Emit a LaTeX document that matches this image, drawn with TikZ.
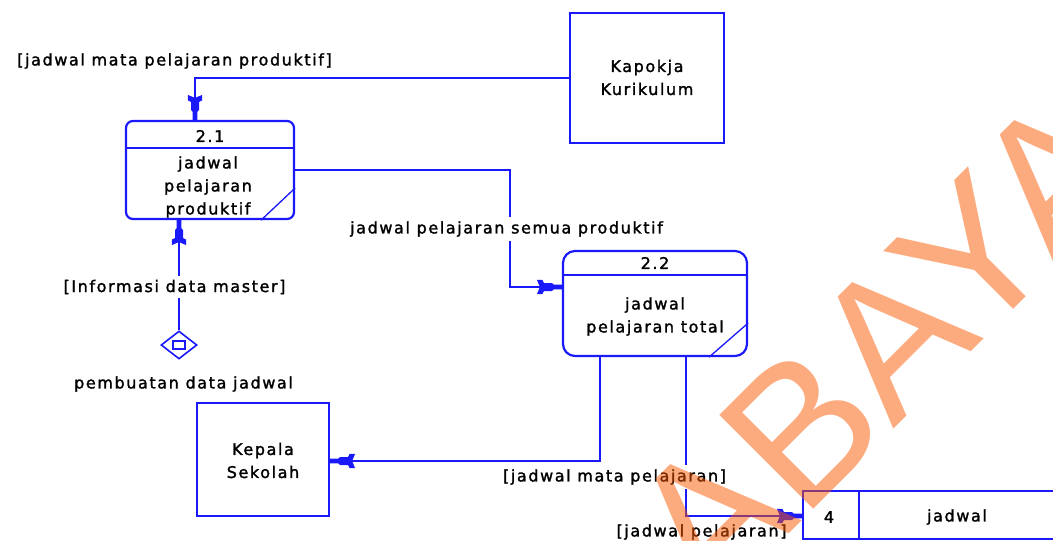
\documentclass[tikz,border=0pt]{standalone}
\usepackage{fontspec}
\setmainfont{DejaVu Sans}[LetterSpace=10, FakeBold=1.6]
\newfontfamily\wmfont{Liberation Sans}
\usetikzlibrary{arrows.meta,shapes.geometric}
\definecolor{dfdblue}{RGB}{25,25,250}
\definecolor{wmorange}{RGB}{250,88,0}

% barbed data-flow arrow head with a short thick stem at the tip
\pgfdeclarearrow{
  name=DFD,
  setup code={
    \pgfarrowssettipend{0pt}
    \pgfarrowssetlineend{-12pt}
    \pgfarrowsupperhullpoint{-25pt}{7pt}
    \pgfarrowsupperhullpoint{0pt}{2.2pt}
  },
  drawing code={
    \pgfpathmoveto{\pgfqpoint{0.5pt}{2.3pt}}
    \pgfpathlineto{\pgfqpoint{-8pt}{2.3pt}}
    \pgfpathlineto{\pgfqpoint{-10pt}{4pt}}
    \pgfpathlineto{\pgfqpoint{-18pt}{4pt}}
    \pgfpathlineto{\pgfqpoint{-19.5pt}{7.2pt}}
    \pgfpathlineto{\pgfqpoint{-25pt}{7.2pt}}
    \pgfpathlineto{\pgfqpoint{-22pt}{0pt}}
    \pgfpathlineto{\pgfqpoint{-25pt}{-7.2pt}}
    \pgfpathlineto{\pgfqpoint{-19.5pt}{-7.2pt}}
    \pgfpathlineto{\pgfqpoint{-18pt}{-4pt}}
    \pgfpathlineto{\pgfqpoint{-10pt}{-4pt}}
    \pgfpathlineto{\pgfqpoint{-8pt}{-2.3pt}}
    \pgfpathlineto{\pgfqpoint{0.5pt}{-2.3pt}}
    \pgfpathclose
    \pgfusepathqfill
  }
}

\tikzset{
  txt/.style={font=\fontsize{16}{23}\selectfont, text=black, align=center, inner sep=0pt},
  border/.style={draw=dfdblue, line width=2.2pt},
  entity/.style={border, rectangle, inner sep=0pt},
  process/.style={border, rectangle, inner sep=0pt},
  flow/.style={draw=dfdblue, line width=2.2pt, -DFD},
  flowlabel/.style={txt, fill=white, inner xsep=1pt, inner ysep=4pt},
}

\begin{document}
\begin{tikzpicture}[x=1pt, y=-1pt]
\useasboundingbox (0,0) rectangle (1053,541);
\clip (0,0) rectangle (1053,541);

% external entities
\node[entity, minimum width=154pt, minimum height=130pt] (kapokja) at (647,78) {};
\node[txt] (kapokjatxt) at (647,77.5) {Kapokja\\Kurikulum};
\node[entity, minimum width=132pt, minimum height=113pt] (kepsek) at (263,459.5) {};
\node[txt] (kepsektxt) at (263,460.5) {Kepala\\Sekolah};

% process 2.1
\node[process, rounded corners=7pt, minimum width=168pt, minimum height=98pt] (p21) at (210,170) {};
\draw[border] ([yshift=-28pt]p21.north west) -- ([yshift=-28pt]p21.north east);
\draw[dfdblue, line width=1.3pt] ([yshift=32pt]p21.south east) -- ([xshift=-34pt]p21.south east);
\node[txt] (p21id) at (210,136) {2.1};
\node[txt] (p21txt) at (208,187) {jadwal\\pelajaran\\produktif};

% process 2.2
\node[process, rounded corners=12pt, minimum width=184pt, minimum height=105pt] (p22) at (655,303.5) {};
\draw[border] ([yshift=-25pt]p22.north west) -- ([yshift=-25pt]p22.north east);
\draw[dfdblue, line width=1.3pt] ([yshift=34pt]p22.south east) -- ([xshift=-39pt]p22.south east);
\node[txt] (p22id) at (655,263) {2.2};
\node[txt] (p22txt) at (655,316.5) {jadwal\\pelajaran total};

% data store 4
\node[entity, minimum width=300pt, minimum height=48pt] (store) at (953,515) {};
\draw[border] ([xshift=57pt]store.north west) -- ([xshift=57pt]store.south west);
\node[txt] (storeid) at (829,517) {4};
\node[txt] (storetxt) at (957,517) {jadwal};

% event source
\node[diamond, draw=dfdblue, line width=1.6pt, minimum width=36pt, minimum height=28pt, inner sep=0pt] (src) at (179,345) {};
\node[draw=dfdblue, line width=1.6pt, minimum width=12pt, minimum height=8pt, inner sep=0pt] (srcmark) at (src.center) {};
\node[txt] (srctxt) at (183.5,384) {pembuatan data jadwal};

% flows
\coordinate (b1) at (510,287);
\coordinate (b2) at (600,461);
\coordinate (b3) at (686,516);
\draw[flow] (kapokja.west) -| ([xshift=-15pt]p21.north);
\draw[flow] (p21.east) -| (b1) -- (b1 -| p22.west);
\draw[flow] (src.north) -- (src.north |- p21.south);
\draw[flow] (b2 |- p22.south) -- (b2) -- (b2 -| kepsek.east);
\draw[flow] (b3 |- p22.south) -- (b3) -- (b3 -| store.west);

% flow labels
\node[txt] (f1) at (174.5,61) {[jadwal mata pelajaran produktif]};
\node[flowlabel] (f2) at (506.5,229) {jadwal pelajaran semua produktif};
\node[flowlabel] (f3) at (174.5,287) {[Informasi data master]};
\node[flowlabel] (f4) at (614.5,477) {[jadwal mata pelajaran]};
\node[txt] (f5) at (701.5,532) {[jadwal pelajaran]};

% watermark
\node[font=\wmfont\fontsize{193}{193}\selectfont, text=wmorange, text opacity=0.5,
      rotate=45, anchor=base, inner sep=0pt] (wm) at (929,394) {ABAYA};
\end{tikzpicture}
\end{document}
